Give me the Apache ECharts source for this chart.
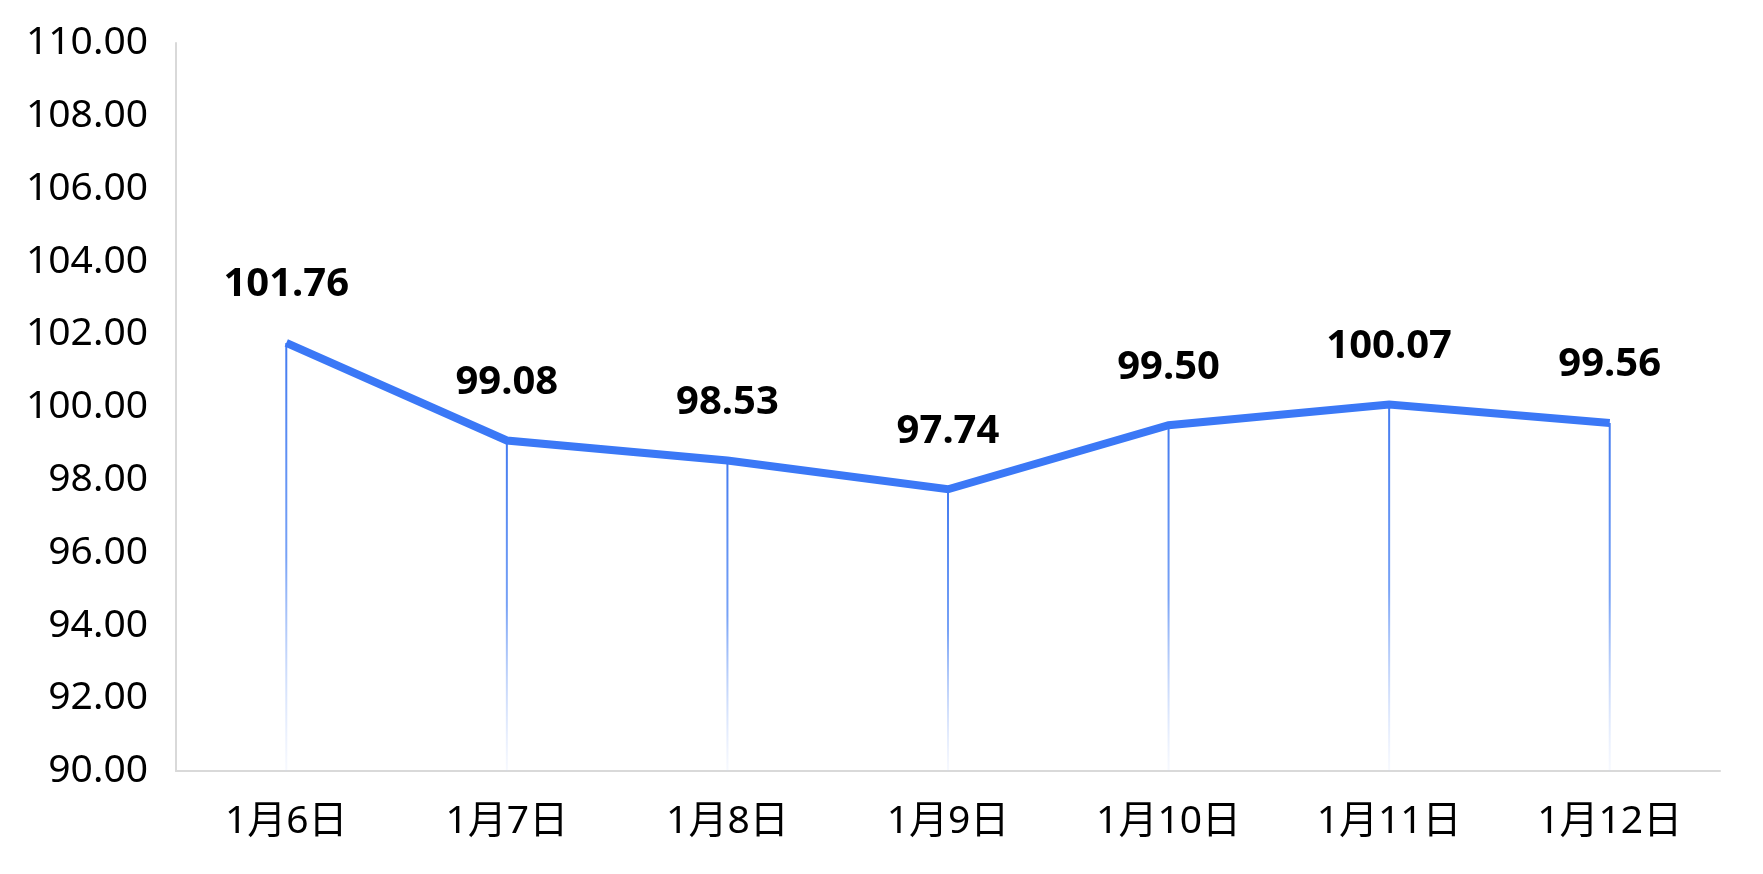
<!DOCTYPE html>
<html>
<head>
<meta charset="utf-8">
<script src="https://cdn.jsdelivr.net/npm/echarts@6/dist/echarts.min.js"></script>
<style>
html,body{margin:0;padding:0;background:#fff;}
#c{width:1763px;height:874px;}
</style>
</head>
<body>
<div id="c"></div>
<script>
const categories = ['1月6日','1月7日','1月8日','1月9日','1月10日','1月11日','1月12日'];
const values = [101.76, 99.08, 98.53, 97.74, 99.50, 100.07, 99.56];
const yMin = 90, yMax = 110, yStep = 2;

const FONT = "'Noto Sans', 'Noto Sans CJK SC', sans-serif";
const chart = echarts.init(document.getElementById('c'), null, {renderer:'canvas'});
chart.setOption({
  animation: false,
  backgroundColor: '#ffffff',
  grid: {left: 176, right: 43, top: 43, bottom: 103, containLabel: false},
  xAxis: {
    type: 'category',
    data: categories,
    boundaryGap: true,
    axisLine: {show: true, lineStyle: {color: '#d9d9d9', width: 2}},
    axisTick: {show: false},
    axisLabel: {color: '#000', fontSize: 39, fontFamily: FONT, margin: 31}
  },
  yAxis: {
    type: 'value',
    min: yMin, max: yMax, interval: yStep,
    axisLine: {show: true, lineStyle: {color: '#d9d9d9', width: 2}},
    axisTick: {show: false},
    splitLine: {show: false},
    axisLabel: {color: '#000', fontSize: 39, fontFamily: FONT, margin: 28,
      formatter: v => v.toFixed(2)}
  },
  series: [
    {
      type: 'bar',
      data: values,
      barWidth: 2,
      itemStyle: {
        color: new echarts.graphic.LinearGradient(0, 0, 0, 1, [
          {offset: 0, color: 'rgba(66,122,240,1)'},
          {offset: 0.5, color: 'rgba(105,152,245,0.9)'},
          {offset: 1, color: 'rgba(200,215,250,0.15)'}
        ])
      },
      label: {
        show: true, position: 'top', distance: 38,
        color: '#000', fontSize: 40, fontWeight: 'bold', fontFamily: FONT,
        formatter: p => p.value.toFixed(2)
      },
      z: 1
    },
    {
      type: 'line',
      data: values,
      symbol: 'none',
      lineStyle: {color: '#3b78f6', width: 8, join: 'miter', cap: 'butt'},
      z: 2
    }
  ]
});
</script>
</body>
</html>
